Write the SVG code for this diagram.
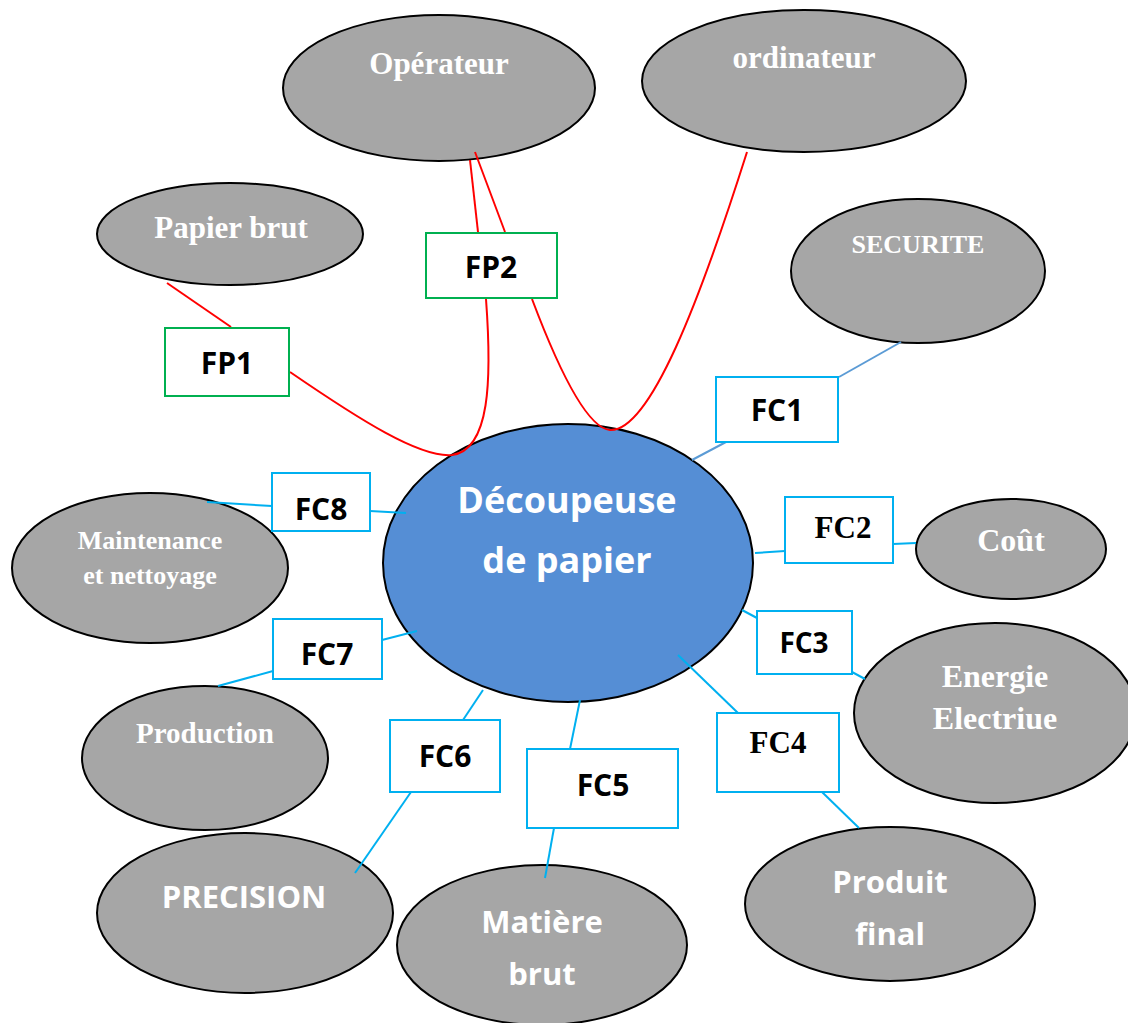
<svg xmlns="http://www.w3.org/2000/svg" width="1128" height="1023" viewBox="0 0 1128 1023">
  <style>
    .topic { fill: #a6a6a6; stroke: #000; stroke-width: 2; }
    .core { fill: #558ed5; stroke: #000; stroke-width: 2; }
    .fp { fill: #fff; stroke: #00b050; stroke-width: 2; }
    .fc { fill: #fff; stroke: #00b0f0; stroke-width: 2; }
    .serif { font-family: "Liberation Serif", "Times New Roman", serif; font-weight: bold; text-anchor: middle; }
    .sans { font-family: "Open Sans", "Liberation Sans", Arial, sans-serif; font-weight: bold; text-anchor: middle; }
    .light { fill: #ffffff; }
    .dark { fill: #000000; }
    .red { fill: none; stroke: #ff0000; stroke-width: 2; }
    .cyan { fill: none; stroke: #00b0f0; stroke-width: 2; }
    .steel { fill: none; stroke: #5b9bd5; stroke-width: 2; }
  </style>

  <!-- surrounding elements -->
  <g id="operateur">
    <ellipse class="topic" cx="439" cy="88" rx="156" ry="73"/>
    <text class="serif light" x="439" y="74" font-size="31">Opérateur</text>
  </g>
  <g id="ordinateur">
    <ellipse class="topic" cx="804" cy="81" rx="162" ry="71"/>
    <text class="serif light" x="804" y="68" font-size="31">ordinateur</text>
  </g>
  <g id="papier-brut">
    <ellipse class="topic" cx="230" cy="234" rx="133" ry="51"/>
    <text class="serif light" x="231" y="238" font-size="31">Papier brut</text>
  </g>
  <g id="securite">
    <ellipse class="topic" cx="918" cy="271" rx="127" ry="72"/>
    <text class="serif light" x="918" y="253" font-size="26">SECURITE</text>
  </g>
  <g id="maintenance">
    <ellipse class="topic" cx="150" cy="568" rx="138" ry="75"/>
    <text class="serif light" x="150" y="549" font-size="26">Maintenance</text>
    <text class="serif light" x="150" y="584" font-size="26">et nettoyage</text>
  </g>
  <g id="cout">
    <ellipse class="topic" cx="1011" cy="549" rx="95" ry="50"/>
    <text class="serif light" x="1011" y="551" font-size="32">Coût</text>
  </g>
  <g id="energie">
    <ellipse class="topic" cx="995" cy="713" rx="141" ry="90"/>
    <text class="serif light" x="995" y="687" font-size="32">Energie</text>
    <text class="serif light" x="995" y="729" font-size="32">Electriue</text>
  </g>
  <g id="production">
    <ellipse class="topic" cx="205" cy="758" rx="123" ry="72"/>
    <text class="serif light" x="205" y="743" font-size="29">Production</text>
  </g>
  <g id="precision">
    <ellipse class="topic" cx="245" cy="913" rx="148" ry="80"/>
    <text class="sans light" x="244" y="908" font-size="31">PRECISION</text>
  </g>
  <g id="matiere-brut">
    <ellipse class="topic" cx="542" cy="945" rx="145" ry="80"/>
    <text class="sans light" x="542" y="933" font-size="31">Matière</text>
    <text class="sans light" x="542" y="985" font-size="31">brut</text>
  </g>
  <g id="produit-final">
    <ellipse class="topic" cx="890" cy="904" rx="145" ry="77"/>
    <text class="sans light" x="890" y="893" font-size="31">Produit</text>
    <text class="sans light" x="890" y="945" font-size="31">final</text>
  </g>

  <!-- the machine itself -->
  <g id="decoupeuse">
    <ellipse class="core" cx="568" cy="563" rx="185" ry="139"/>
    <text class="sans light" x="567" y="513" font-size="36">Découpeuse</text>
    <text class="sans light" x="567" y="573" font-size="36">de papier</text>
  </g>

  <!-- links between elements and functions -->
  <g id="connectors">
    <line class="red" x1="167" y1="283" x2="231" y2="327"/>
    <path class="red" d="M290,372 C360,420 420,458 452,455 C490,450 492,380 486,299"/>
    <line class="red" x1="470" y1="160" x2="478" y2="232"/>
    <line class="red" x1="475" y1="152" x2="505" y2="232"/>
    <path class="red" d="M532,299 C555,360 585,428 610,430 C650,432 700,300 747,152"/>

    <line class="steel" x1="901" y1="342" x2="839" y2="377"/>
    <line class="steel" x1="726" y1="442" x2="692" y2="460"/>

    <line class="cyan" x1="755" y1="553" x2="785" y2="551"/>
    <line class="cyan" x1="893" y1="544" x2="916" y2="543"/>
    <line class="cyan" x1="742" y1="610" x2="757" y2="618"/>
    <line class="cyan" x1="852" y1="672" x2="865" y2="679"/>
    <line class="cyan" x1="678" y1="655" x2="738" y2="713"/>
    <line class="cyan" x1="822" y1="792" x2="859" y2="828"/>
    <line class="cyan" x1="580" y1="700" x2="570" y2="749"/>
    <line class="cyan" x1="554" y1="828" x2="545" y2="878"/>
    <line class="cyan" x1="483" y1="690" x2="463" y2="720"/>
    <line class="cyan" x1="411" y1="792" x2="355" y2="873"/>
    <line class="cyan" x1="417" y1="631" x2="382" y2="640"/>
    <line class="cyan" x1="273" y1="671" x2="218" y2="686"/>
    <line class="cyan" x1="207" y1="502" x2="272" y2="506"/>
    <line class="cyan" x1="370" y1="511" x2="406" y2="513"/>
  </g>

  <!-- principal functions -->
  <g id="fp1">
    <rect class="fp" x="165" y="328" width="124" height="68"/>
    <text class="sans dark" x="227" y="374" font-size="30">FP1</text>
  </g>
  <g id="fp2">
    <rect class="fp" x="426" y="233" width="131" height="65"/>
    <text class="sans dark" x="491" y="278" font-size="30">FP2</text>
  </g>

  <!-- constraint functions -->
  <g id="fc1">
    <rect class="fc" x="716" y="377" width="122" height="65"/>
    <text class="sans dark" x="777" y="421" font-size="30">FC1</text>
  </g>
  <g id="fc2">
    <rect class="fc" x="785" y="497" width="108" height="66"/>
    <text class="serif dark" x="843" y="538" font-size="31">FC2</text>
  </g>
  <g id="fc3">
    <rect class="fc" x="757" y="611" width="95" height="63"/>
    <text class="sans dark" x="804" y="653" font-size="28">FC3</text>
  </g>
  <g id="fc4">
    <rect class="fc" x="717" y="713" width="122" height="79"/>
    <text class="serif dark" x="778" y="753" font-size="31">FC4</text>
  </g>
  <g id="fc5">
    <rect class="fc" x="527" y="749" width="151" height="79"/>
    <text class="sans dark" x="603" y="796" font-size="30">FC5</text>
  </g>
  <g id="fc6">
    <rect class="fc" x="390" y="720" width="110" height="72"/>
    <text class="sans dark" x="445" y="767" font-size="30">FC6</text>
  </g>
  <g id="fc7">
    <rect class="fc" x="273" y="619" width="109" height="60"/>
    <text class="sans dark" x="327" y="665" font-size="30">FC7</text>
  </g>
  <g id="fc8">
    <rect class="fc" x="272" y="473" width="98" height="58"/>
    <text class="sans dark" x="321" y="520" font-size="30">FC8</text>
  </g>
</svg>
